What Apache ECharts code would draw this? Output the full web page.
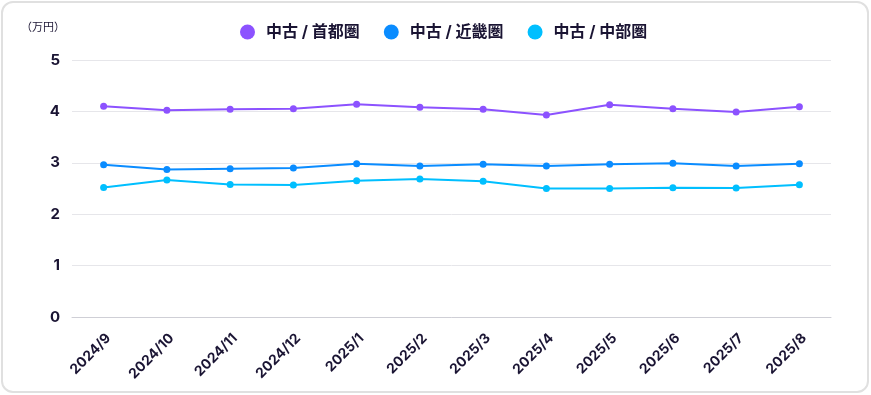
<!DOCTYPE html>
<html><head><meta charset="utf-8">
<script src="https://cdn.jsdelivr.net/npm/echarts@6/dist/echarts.min.js"></script>
<style>
html,body{margin:0;padding:0;background:#fff;}
#card{position:absolute;left:1px;top:1px;width:868px;height:392px;border:2px solid #e0e0e0;border-radius:12px;box-sizing:border-box;}
#chart{position:absolute;left:0;top:0;width:871px;height:395px;}
</style></head>
<body>
<div id="card"></div>
<div id="chart"></div>
<script>
const categories = ['2024/9','2024/10','2024/11','2024/12','2025/1','2025/2','2025/3','2025/4','2025/5','2025/6','2025/7','2025/8'];
const seriesNames = ['中古 / 首都圏','中古 / 近畿圏','中古 / 中部圏'];
const shutoken = [4.10,4.02,4.04,4.05,4.14,4.08,4.04,3.93,4.13,4.05,3.99,4.09];
const kinki = [2.96,2.87,2.885,2.90,2.98,2.94,2.97,2.94,2.97,2.99,2.94,2.98];
const chubu = [2.52,2.665,2.58,2.57,2.65,2.685,2.64,2.50,2.50,2.515,2.51,2.575];
const yTicks = [0,1,2,3,4,5];
const unitLabel = '（万円）';

const colors = ['#8c52ff','#0a8cff','#00bfff'];
const font = 'Inter, "Noto Sans CJK JP", sans-serif';
const chart = echarts.init(document.getElementById('chart'));
const mk = (name, data, c) => ({
  name, type:'line', data, color:c,
  symbol:'circle', symbolSize:7,
  lineStyle:{width:2, color:c}, itemStyle:{color:c}
});
chart.setOption({
  animation:false,
  textStyle:{fontFamily:font},
  legend:{
    top:19, left:235, itemGap:24, itemWidth:15, itemHeight:15,
    icon:'circle',
    textStyle:{fontSize:16, fontWeight:'bold', color:'#1a1433', fontFamily:font, padding:[0,0,0,6]}
  },
  graphic:[{type:'text', left:21, top:22, style:{text:unitLabel, fontSize:11, fill:'#1a1433', fontFamily:font}}],
  grid:{left:72, right:40, top:60, bottom:78},
  xAxis:{
    type:'category', data:categories, boundaryGap:true,
    axisLine:{lineStyle:{color:'#cfcfd6'}}, axisTick:{show:false},
    axisLabel:{rotate:45, fontSize:14, fontWeight:'bold', color:'#1a1433', margin:14, interval:0, fontFamily:font, verticalAlign:'top'}
  },
  yAxis:{
    type:'value', min:yTicks[0], max:yTicks[yTicks.length-1], interval:1,
    axisLine:{show:false}, axisTick:{show:false},
    axisLabel:{fontSize:15, fontWeight:'bold', color:'#1a1433', margin:12, fontFamily:font},
    splitLine:{lineStyle:{color:'#e6e6ea'}}
  },
  series:[mk(seriesNames[0],shutoken,colors[0]), mk(seriesNames[1],kinki,colors[1]), mk(seriesNames[2],chubu,colors[2])]
});
</script>
</body></html>
